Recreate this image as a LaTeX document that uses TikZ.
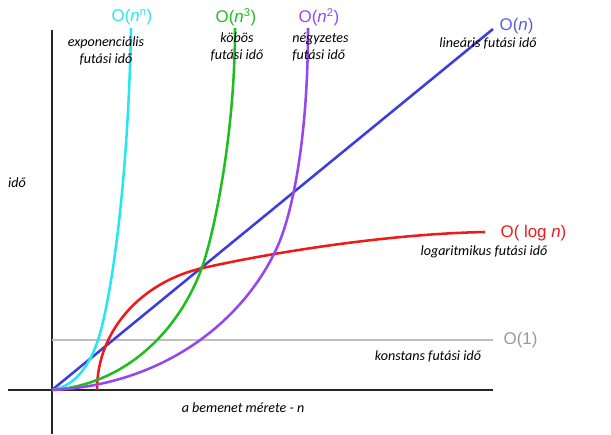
\documentclass[tikz,border=0pt]{standalone}
\usepackage{fontspec}
\setmainfont{Carlito}
\newfontfamily\arialfont{Liberation Sans}
\usepackage{tikz}
\definecolor{expcol}{RGB}{40,230,240}
\definecolor{cubcol}{RGB}{30,190,30}
\definecolor{sqcol}{RGB}{150,70,240}
\definecolor{lincol}{RGB}{60,60,225}
\definecolor{logcol}{RGB}{240,25,25}
\definecolor{constcol}{RGB}{190,190,190}
\tikzset{
  curve/.style={line width=1.8pt, line join=round},
  bigO/.style={font=\arialfont\fontsize{12}{14}\selectfont, inner sep=1pt},
  desc/.style={font=\itshape\fontsize{10}{12}\selectfont, align=center, inner sep=0pt},
  axis/.style={line width=1.8pt, black!85}
}

\begin{document}
\begin{tikzpicture}[x=0.025cm, y=0.025cm]
\useasboundingbox (-52,-44) rectangle (559,390);
% axes
\draw[axis] (0,-44) -- (0,360);
\draw[axis] (-44,0) -- (441,0);
% curves
\coordinate (o) at (0,0);
\draw[curve, constcol] (0,50) -- (441,50) coordinate (c1);
\draw[curve, lincol] (o) -- (441,361) coordinate (cn);
\draw[curve, logcol] (45,0) .. controls (45,60) and (90,108) .. (149.7,121.7)
  .. controls (210,135.5) and (330,156) .. (433,158) coordinate (clog);
\draw[curve, expcol] (o) .. controls (20,3) and (36,20) .. (46,50)
  .. controls (58,86) and (76,200) .. (79,362) coordinate (cexp);
\draw[curve, cubcol] (o) .. controls (70,5) and (125,55) .. (149.7,121.7)
  .. controls (160,149.5) and (183,250) .. (183,362) coordinate (ccub);
\draw[curve, sqcol] (o) .. controls (110,5) and (190,67) .. (224.7,141.7)
  .. controls (240,174.6) and (256,250) .. (256,362) coordinate (csq);
% labels
\node[bigO, text=expcol] (lexp) at (80,373) {O(\textit{n}\textsuperscript{n})};
\node[bigO, text=cubcol] (lcub) at (184,373) {O(\textit{n}\textsuperscript{3})};
\node[bigO, text=sqcol] (lsq) at (267,373) {O(\textit{n}\textsuperscript{2})};
\node[bigO, text=lincol!85, anchor=west] (llin) at (446,364) {O(\textit{n})};
\node[bigO, text=logcol, anchor=west] (llog) at (447,157) {O( log \textit{n})};
\node[bigO, text=black!40, anchor=west] (lconst) at (450,50) {O(1)};
\node[desc] (dexp) at (54,339) {exponenciális\\futási idő};
\node[desc] (dcub) at (185,343) {köbös\\futási idő};
\node[desc, align=left, anchor=west] (dsq) at (240,343) {négyzetes\\futási idő};
\node[desc] (dlin) at (436,347) {lineáris futási idő};
\node[desc] (dlog) at (432,138) {logaritmikus futási idő};
\node[desc] (dconst) at (376,34) {konstans futási idő};
\node[desc] (dx) at (191,-18) {a bemenet mérete - n};
\node[desc] (dy) at (-35,207) {idő};
\end{tikzpicture}
\end{document}
